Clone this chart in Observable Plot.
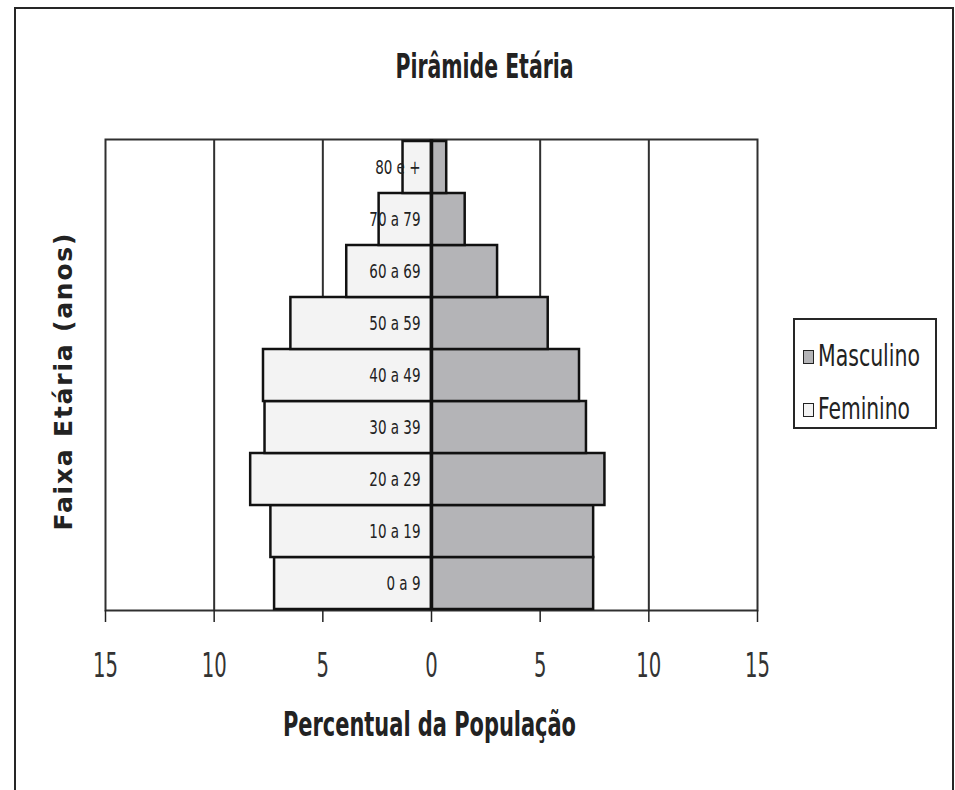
<!DOCTYPE html>
<html>
<head>
<meta charset="utf-8">
<script src="https://cdn.jsdelivr.net/npm/d3@7"></script>
<script src="https://cdn.jsdelivr.net/npm/@observablehq/plot@0.6"></script>
<style>
  html, body { margin: 0; padding: 0; background: #fff; }
  #wrap { position: relative; width: 955px; height: 790px; overflow: hidden;
          font-family: "DejaVu Sans Condensed", "Liberation Sans Narrow", "Liberation Sans", sans-serif; }
  #border { position: absolute; left: 14px; top: 7px; width: 936px; height: 800px;
            border: 2px solid #262626; border-bottom: none; }
  #chart { position: absolute; left: 0; top: 0; }
  #legend { position: absolute; left: 793px; top: 318px; width: 140px; height: 107px;
            border: 2px solid #262626; background: #fff; }
  .entry { position: absolute; left: 8px; height: 30px; white-space: nowrap; }
  .swatch { position: absolute; left: 0; top: 10px; width: 9px; height: 12px;
            border: 1.5px solid #222; }
  .name { position: absolute; left: 15px; top: 0; font-size: 31px; line-height: 30px;
          color: #222; transform-origin: 0 50%; display: inline-block; }
</style>
</head>
<body>
<div id="wrap">
  <div id="chart"></div>
  <div id="border"></div>
  <div id="legend"></div>
</div>
<script>
// Age groups, bottom to top
const ageGroups = ["0 a 9", "10 a 19", "20 a 29", "30 a 39", "40 a 49", "50 a 59", "60 a 69", "70 a 79", "80 e +"];
// Share of the population (%) per age group
const masculino = [7.46, 7.46, 7.98, 7.13, 6.81, 5.37, 3.04, 1.55, 0.70];
const feminino  = [7.22, 7.39, 8.32, 7.66, 7.73, 6.47, 3.90, 2.41, 1.31];
const xTicks = [-15, -10, -5, 0, 5, 10, 15];
const gridTicks = [-10, -5, 5, 10];

const title = "Pirâmide Etária";
const xLabel = "Percentual da População";
const yLabel = "Faixa Etária (anos)";

const series = [
  { name: "Masculino", values: masculino, sign: 1, fill: "#b4b4b7" },
  { name: "Feminino", values: feminino, sign: -1, fill: "#f3f3f3" }
];

const rows = series.flatMap(s => ageGroups.map((age, i) => ({
  age, sexo: s.name, value: s.sign * s.values[i], fill: s.fill
})));

const font = "'DejaVu Sans Condensed', 'Liberation Sans Narrow', 'Liberation Sans', sans-serif";
const ink = "#222";

const chart = Plot.plot({
  width: 955,
  height: 790,
  marginLeft: 105,
  marginRight: 198,
  marginTop: 139,
  marginBottom: 180,
  style: { fontFamily: font, color: ink, background: "transparent" },
  x: { domain: [-15, 15] },
  y: { domain: ageGroups.slice().reverse(), padding: 0, axis: null },
  marks: [
    Plot.gridX(gridTicks, { stroke: "#303030", strokeOpacity: 1, strokeWidth: 2 }),
    Plot.frame({ stroke: "#303030", strokeWidth: 2 }),
    Plot.barX(rows, {
      x1: 0, x2: "value", y: "age",
      fill: d => d.fill, stroke: "#111", strokeWidth: 2.5
    }),
    Plot.ruleX([0], { stroke: "#111", strokeWidth: 3.5 }),
    Plot.text(ageGroups, {
      x: 0, y: d => d, text: d => d,
      textAnchor: "end", dx: -11, fontSize: 20, fill: ink
    }),
    Plot.axisX(xTicks, {
      tickFormat: d => Math.abs(d), tickSize: 12, tickPadding: 30,
      fontSize: 34, stroke: "#222", strokeWidth: 1.5, label: null, fill: "#333"
    }),
    Plot.text([title], {
      frameAnchor: "top", dx: 53, dy: -62, lineAnchor: "bottom",
      fontSize: 34, fontWeight: "bold", fill: ink
    }),
    Plot.text([xLabel], {
      frameAnchor: "bottom", dx: -2, dy: 125, lineAnchor: "bottom",
      fontSize: 34, fontWeight: "bold", fill: ink
    }),
    Plot.text([yLabel], {
      frameAnchor: "left", dx: -42, dy: 7, rotate: -90,
      textAnchor: "middle", lineAnchor: "middle",
      fontSize: 25, fontWeight: "bold", fill: ink,
      fontFamily: "'DejaVu Sans', 'Liberation Sans', sans-serif"
    })
  ]
});

document.getElementById("chart").appendChild(chart);

// narrow, tall lettering: fit each text to a set width
function fit(el, width, adjust = "spacingAndGlyphs") {
  el.setAttribute("textLength", width);
  el.setAttribute("lengthAdjust", adjust);
}
const svg = d3.select(chart);
svg.selectAll("text").each(function () {
  const t = this.textContent;
  if (t === title) fit(this, 178);
  else if (t === xLabel) fit(this, 293);
  else if (t === yLabel) fit(this, 297, "spacing");
  else if (ageGroups.includes(t)) fit(this, this.getComputedTextLength() * 0.75);
});
svg.selectAll('g[aria-label="x-axis tick label"] text').each(function () {
  fit(this, 12.5 * this.textContent.length);
});

// legend
const legend = d3.select("#legend");
series.forEach((s, i) => {
  const e = legend.append("div").attr("class", "entry").style("top", (i === 0 ? 20 : 73) + "px");
  e.append("span").attr("class", "swatch").style("background", s.fill);
  const n = e.append("span").attr("class", "name").text(s.name);
  const target = i === 0 ? 102 : 92;
  const w = n.node().getBoundingClientRect().width;
  n.style("transform", `scaleX(${target / w})`);
});
</script>
</body>
</html>
